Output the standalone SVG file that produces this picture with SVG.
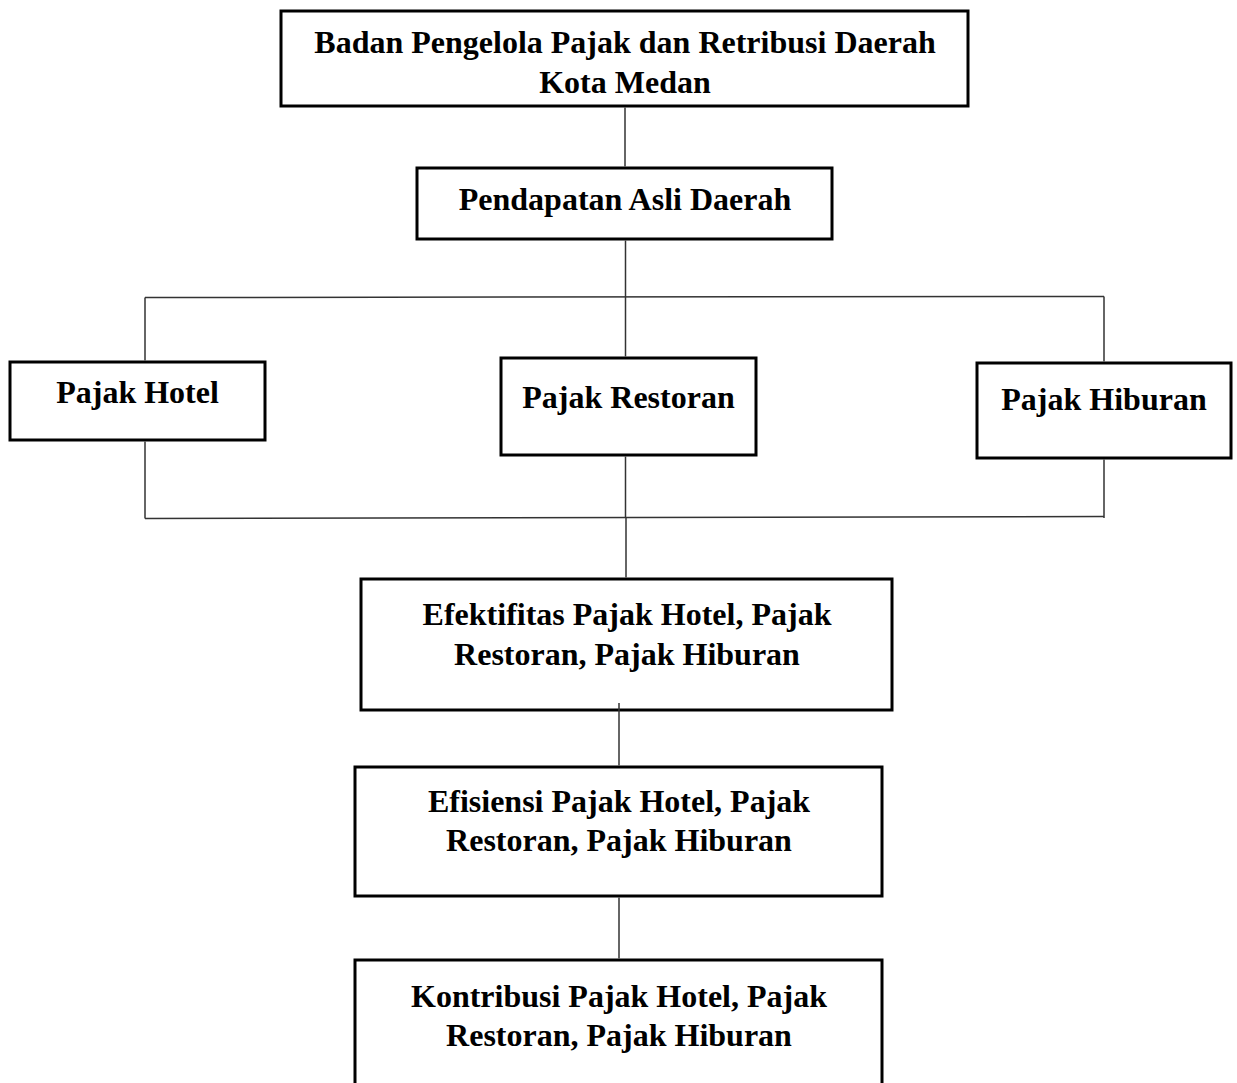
<svg xmlns="http://www.w3.org/2000/svg" width="1237" height="1083" viewBox="0 0 1237 1083">
<style>
.box{fill:#fff;stroke:#000;stroke-width:3}
.t{font-family:"Liberation Serif","Times New Roman",serif;font-weight:bold;font-size:32px;fill:#000;text-anchor:middle}
.ln{stroke:#333;stroke-width:1.5;fill:none}
</style>
<rect width="1237" height="1083" fill="#fff"/>
<g id="n-bppd">
<rect class="box" x="281" y="11" width="687" height="95"/>
<text class="t" x="625" y="53">Badan Pengelola Pajak dan Retribusi Daerah</text>
<text class="t" x="625" y="93">Kota Medan</text>
</g>
<g id="n-pad">
<rect class="box" x="417" y="168" width="415" height="71"/>
<text class="t" x="625" y="210">Pendapatan Asli Daerah</text>
</g>
<g id="n-hotel">
<rect class="box" x="10" y="362" width="255" height="78"/>
<text class="t" x="137.5" y="403">Pajak Hotel</text>
</g>
<g id="n-restoran">
<rect class="box" x="501" y="358" width="255" height="97"/>
<text class="t" x="628.5" y="408">Pajak Restoran</text>
</g>
<g id="n-hiburan">
<rect class="box" x="977" y="363" width="254" height="95"/>
<text class="t" x="1104" y="410">Pajak Hiburan</text>
</g>
<g id="n-efektifitas">
<rect class="box" x="361" y="579" width="531" height="131"/>
<text class="t" x="627" y="625">Efektifitas Pajak Hotel, Pajak</text>
<text class="t" x="627" y="665">Restoran, Pajak Hiburan</text>
</g>
<g id="n-efisiensi">
<rect class="box" x="355" y="767" width="527" height="129"/>
<text class="t" x="619" y="812">Efisiensi Pajak Hotel, Pajak</text>
<text class="t" x="619" y="851">Restoran, Pajak Hiburan</text>
</g>
<g id="n-kontribusi">
<rect class="box" x="355" y="960" width="527" height="140"/>
<text class="t" x="619" y="1007">Kontribusi Pajak Hotel, Pajak</text>
<text class="t" x="619" y="1046">Restoran, Pajak Hiburan</text>
</g>
<g id="connectors">
<line class="ln" x1="625" y1="107.5" x2="625" y2="166.5"/>
<line class="ln" x1="625.5" y1="240.5" x2="625.5" y2="356.5"/>
<line class="ln" x1="145" y1="297.5" x2="1104" y2="296.5"/>
<line class="ln" x1="145" y1="297.5" x2="145" y2="360.5"/>
<line class="ln" x1="1104" y1="296.5" x2="1104" y2="361.5"/>
<line class="ln" x1="145" y1="441.5" x2="145" y2="518.5"/>
<line class="ln" x1="1104" y1="459.5" x2="1104" y2="518"/>
<line class="ln" x1="625.5" y1="456.5" x2="625.5" y2="517.5"/>
<line class="ln" x1="145" y1="518.5" x2="1104" y2="516.5"/>
<line class="ln" x1="626" y1="517" x2="626" y2="577.5"/>
<line class="ln" x1="619" y1="703" x2="619" y2="765.5"/>
<line class="ln" x1="619" y1="897.5" x2="619" y2="958.5"/>
</g>
</svg>
